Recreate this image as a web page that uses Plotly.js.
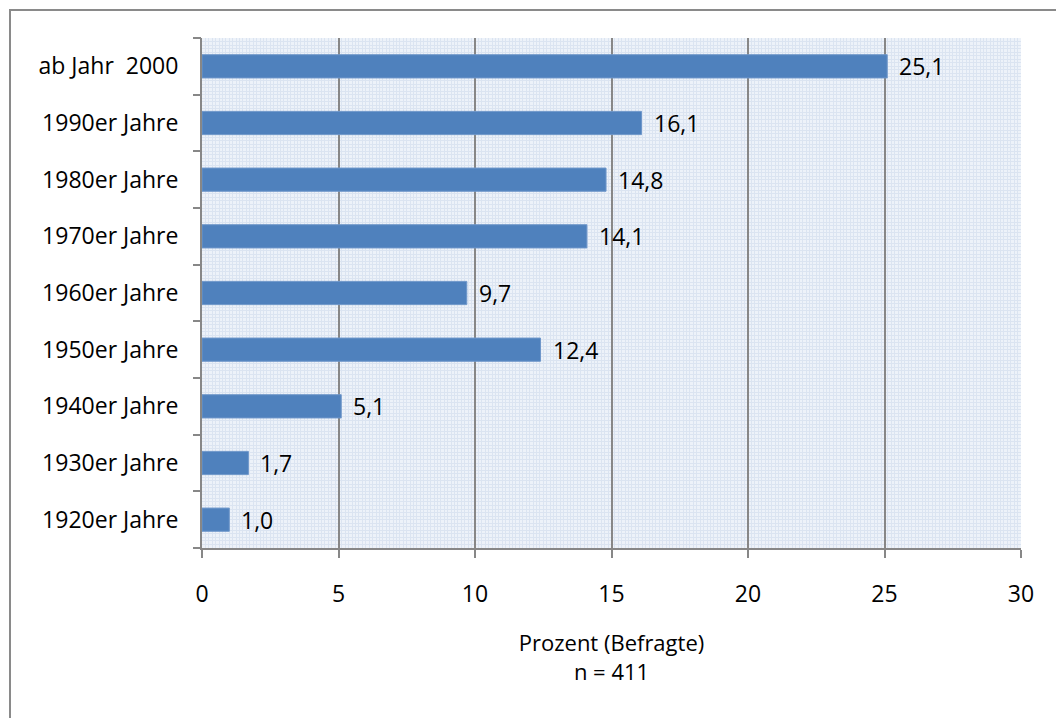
<!DOCTYPE html>
<html>
<head>
<meta charset="utf-8">
<script src="https://cdn.plot.ly/plotly-3.0.1.min.js"></script>
<style>
  html, body { margin: 0; padding: 0; background: #ffffff; overflow: hidden; }
  #chart { position: absolute; left: 0; top: 0; width: 1056px; height: 718px; }
  #frame { position: absolute; left: 9px; top: 9px; width: 2000px; height: 2000px;
           border-left: 2px solid #8a8a8a; border-top: 2px solid #8a8a8a; pointer-events: none; }
</style>
</head>
<body>
<div id="chart"></div>
<div id="frame"></div>
<script>
// Decade of construction, bottom to top
const categories = ['1920er Jahre', '1930er Jahre', '1940er Jahre', '1950er Jahre', '1960er Jahre',
                    '1970er Jahre', '1980er Jahre', '1990er Jahre', 'ab Jahr\u00a0 2000'];
// Share of respondents in percent
const values = [1.0, 1.7, 5.1, 12.4, 9.7, 14.1, 14.8, 16.1, 25.1];
const xTicks = [0, 5, 10, 15, 20, 25, 30];
const axisTitle = 'Prozent (Befragte)<br>n = 411';

const positions = categories.map((_, i) => i);
const fontFamily = '"Open Sans", "Noto Sans", sans-serif';
const gray = '#878787';

const bars = {
  type: 'bar',
  orientation: 'h',
  x: values,
  y: positions,
  marker: { color: '#4f81bd', line: { color: '#6f97ca', width: 1 } },
  hoverinfo: 'skip'
};

// empty companion trace so the boundary-tick axis gets drawn
const boundaryAxis = { type: 'scatter', mode: 'markers', x: [], y: [], yaxis: 'y2', hoverinfo: 'skip' };

const labels = values.map((v, i) => ({
  x: v, y: positions[i], xref: 'x', yref: 'y',
  text: v.toFixed(1).replace('.', ','),
  showarrow: false, xanchor: 'left', yanchor: 'middle', xshift: 10,
  font: { family: fontFamily, size: 23, color: '#000000' }
}));

const layout = {
  width: 1056, height: 718,
  margin: { l: 202, r: 35, t: 38, b: 170 },
  paper_bgcolor: 'rgba(0,0,0,0)',
  plot_bgcolor: '#edf2f9',
  showlegend: false,
  bargap: 0.59,
  font: { family: fontFamily, size: 23, color: '#000000' },
  xaxis: {
    range: [0, 30],
    tickvals: xTicks,
    ticktext: xTicks.map(String),
    showgrid: true, gridcolor: gray, gridwidth: 2,
    zeroline: false,
    showline: true, linecolor: gray, linewidth: 2,
    ticks: 'outside', ticklen: 8, tickwidth: 2, tickcolor: gray,
    ticklabelstandoff: 16,
    minor: { dtick: 0.125, tick0: 0, showgrid: true, gridcolor: '#dbe4f1', gridwidth: 1, ticks: '' },
    title: { text: axisTitle, font: { family: fontFamily, size: 22 }, standoff: 28 },
    fixedrange: true
  },
  yaxis: {
    range: [-0.5, 8.5],
    tickvals: positions,
    ticktext: categories,
    showgrid: false, zeroline: false,
    showline: true, linecolor: gray, linewidth: 2,
    ticks: '', ticklabelstandoff: 17,
    minor: { tick0: -0.5, dtick: 0.0625, showgrid: true, gridcolor: '#dbe4f1', gridwidth: 1, ticks: '' },
    fixedrange: true
  },
  // tick marks on the category boundaries
  yaxis2: {
    overlaying: 'y', side: 'left', anchor: 'x',
    range: [-0.5, 8.5],
    tickmode: 'linear', tick0: -0.5, dtick: 1,
    ticks: 'outside', ticklen: 8, tickwidth: 2, tickcolor: gray,
    showticklabels: false, showgrid: false, zeroline: false, showline: false,
    fixedrange: true
  },
  annotations: labels
};

Plotly.newPlot('chart', [bars, boundaryAxis], layout, { displayModeBar: false, staticPlot: true });
</script>
</body>
</html>
